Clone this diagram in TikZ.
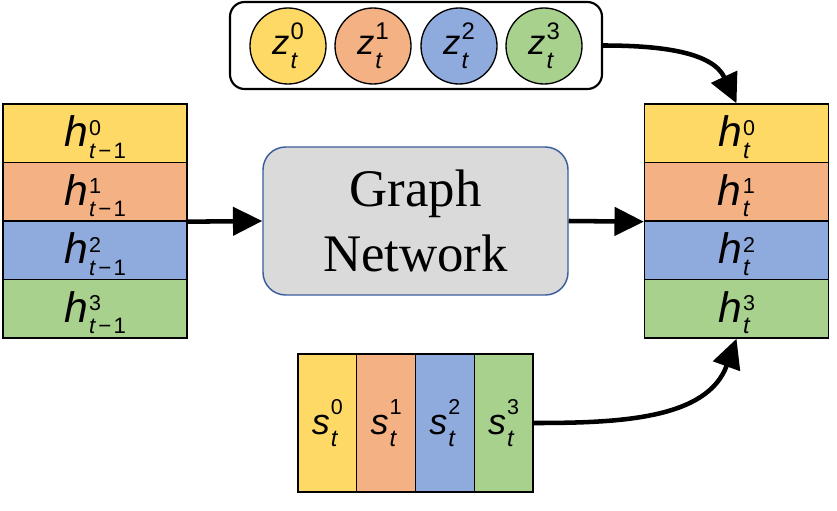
\documentclass[tikz,border=0pt]{standalone}
\usepackage{graphicx}
\usepackage{fontspec}
\setmainfont{Liberation Serif}
\newfontfamily\labfont{Liberation Sans}
\usetikzlibrary{arrows.meta}
\definecolor{cyel}{HTML}{FFD966}
\definecolor{corg}{HTML}{F4B183}
\definecolor{cblu}{HTML}{8FAADC}
\definecolor{cgrn}{HTML}{A9D18E}
\definecolor{cgray}{HTML}{DADADA}
\definecolor{cborder}{HTML}{3A5E9C}
\newlength\stackw
\newsavebox\supbox
\newsavebox\subbox
% #1 letter, #2 sup, #3 sub, #4 main size, #5 raise, #6 lower, #7 sup height, #8 sub height
\newcommand{\lblgen}[8]{{\labfont\fontsize{#4}{#4}\selectfont\textit{#1}\kern0.03em%
  \fontsize{17}{17}\selectfont
  \sbox\supbox{\resizebox{!}{#7}{#2}}\sbox\subbox{\resizebox{!}{#8}{#3}}%
  \ifdim\wd\supbox>\wd\subbox \setlength\stackw{\wd\supbox}\else \setlength\stackw{\wd\subbox}\fi
  \rlap{\raisebox{#5}{\usebox\supbox}}\rlap{\raisebox{-#6}{\usebox\subbox}}\kern\stackw}}
\newcommand{\hlbl}[2]{\rule{0pt}{29pt}\lblgen{h}{#1}{#2}{32pt}{8.5pt}{8.5pt}{11.25pt}{11.5pt}}
\newcommand{\zlbl}[1]{\lblgen{z}{#1}{\textit{t}}{26pt}{11pt}{10.5pt}{12.5pt}{11.5pt}}
\newcommand{\slbl}[1]{\lblgen{s}{#1}{\textit{t}}{27pt}{14.5pt}{9pt}{11.25pt}{11.5pt}}
\newcommand{\tmsub}{\textit{t}\kern0.1em−\kern0.1em1}
\tikzset{
  hcell/.style={draw=black, line width=1pt, minimum width=138pt, minimum height=43.9pt, inner sep=0pt},
  scell/.style={draw=black, line width=1pt, minimum width=44pt, minimum height=103.5pt, inner sep=0pt},
  zcirc/.style={circle, draw=black, line width=1pt, minimum size=57pt, inner sep=0pt},
  zbox/.style={draw=black, line width=1.6pt, rounded corners=11pt, minimum width=279pt, minimum height=65.25pt, inner sep=0pt},
  gnbox/.style={draw=cborder, fill=cgray, line width=1.1pt, rounded corners=17pt, minimum width=228.75pt, minimum height=111pt, inner sep=0pt, align=center, font=\fontsize{39.6}{48.75}\selectfont},
  arr/.style={line width=3.4pt, -{Triangle[length=22pt,width=21pt]}}
}
\begin{document}
\begin{tikzpicture}[x=0.75pt,y=-0.75pt]
\useasboundingbox (0,0) rectangle (837,510);
% top box with circles
\node[zbox] (zb) at (416,45.5) {};
\node[zcirc, fill=cyel] (z0) at (288,46) {\zlbl{0}};
\node[zcirc, fill=corg] (z1) at (373,46) {\zlbl{1}};
\node[zcirc, fill=cblu] (z2) at (459,46) {\zlbl{2}};
\node[zcirc, fill=cgrn] (z3) at (544,46) {\zlbl{3}};
% left stack
\node[hcell, fill=cyel] (l0) at (95,133.25) {\hlbl{0}{\tmsub}};
\node[hcell, fill=corg] (l1) at (95,191.75) {\hlbl{1}{\tmsub}};
\node[hcell, fill=cblu] (l2) at (95,250.25) {\hlbl{2}{\tmsub}};
\node[hcell, fill=cgrn] (l3) at (95,308.75) {\hlbl{3}{\tmsub}};
% right stack
\node[hcell, fill=cyel] (r0) at (736.5,133.25) {\hlbl{0}{\textit{t}}};
\node[hcell, fill=corg] (r1) at (736.5,191.75) {\hlbl{1}{\textit{t}}};
\node[hcell, fill=cblu] (r2) at (736.5,250.25) {\hlbl{2}{\textit{t}}};
\node[hcell, fill=cgrn] (r3) at (736.5,308.75) {\hlbl{3}{\textit{t}}};
% s stack
\node[scell, fill=cyel] (s0) at (327.4,423) {\slbl{0}};
\node[scell, fill=corg] (s1) at (386.1,423) {\slbl{1}};
\node[scell, fill=cblu] (s2) at (444.9,423) {\slbl{2}};
\node[scell, fill=cgrn] (s3) at (503.6,423) {\slbl{3}};
% graph network
\node[gnbox] (gn) at (415.5,221) {Graph\\Network};
% arrows
\draw[arr] (l1.south east) -- (gn.west);
\draw[arr] (gn.east) -- (r1.south west);
\draw[arr] (zb.east) to[out=0,in=115] (r0.north);
\draw[arr] (s3.east) to[out=0,in=-110] (r3.south);
\end{tikzpicture}
\end{document}
